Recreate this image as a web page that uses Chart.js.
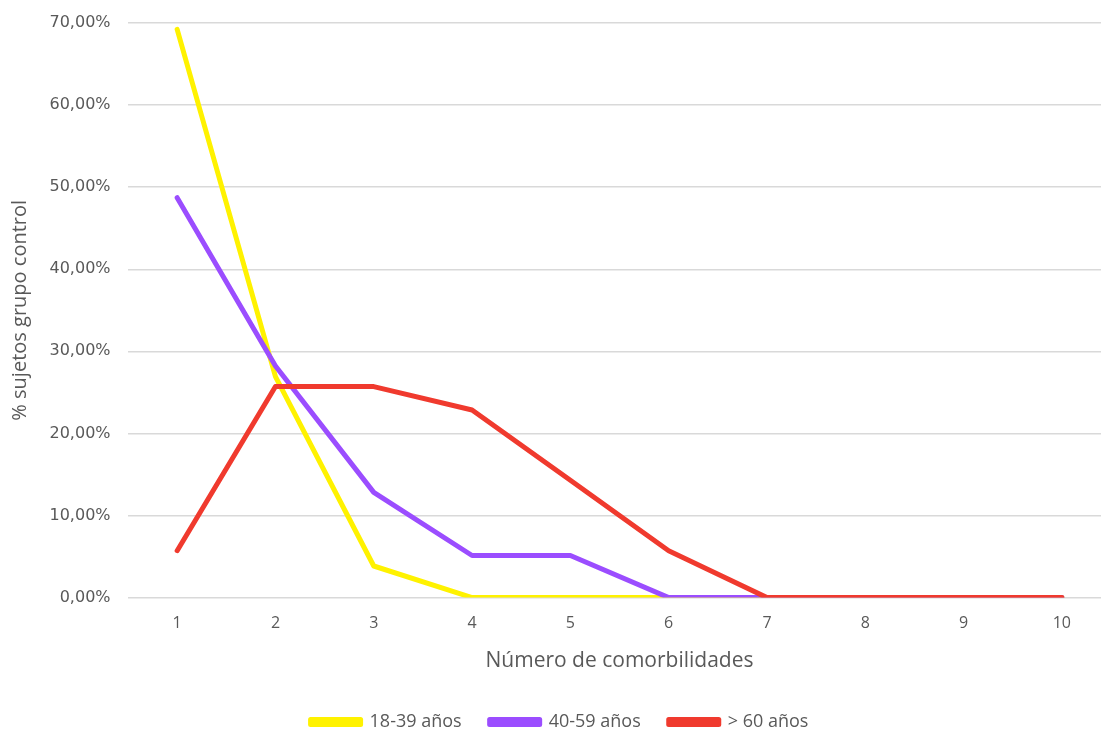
<!DOCTYPE html>
<html>
<head>
<meta charset="utf-8">
<script src="https://cdn.jsdelivr.net/npm/chart.js@4/dist/chart.umd.min.js"></script>
<style>
  html, body { margin:0; padding:0; background:#fff; overflow:hidden; }
  #wrap { position:relative; width:1112px; height:730px; }
</style>
</head>
<body>
<div id="wrap"><canvas id="chart"></canvas></div>
<script>
// % of control-group subjects by number of comorbidities, per age band
const comorbidities = ['1','2','3','4','5','6','7','8','9','10'];
const young  = [69.23, 26.92, 3.85, 0, 0, 0, 0, 0, 0, 0];       // 18-39
const middle = [48.72, 28.21, 12.82, 5.13, 5.13, 0, 0, 0, 0, 0];  // 40-59
const senior = [5.71, 25.71, 25.71, 22.86, 14.29, 5.71, 0, 0, 0, 0]; // > 60
const seriesNames = ['18-39 años', '40-59 años', '> 60 años'];
const lineColors = ['#FFF200', '#9B4DFF', '#F03A2E'];

const grey = '#595959';

function line(label, data, color, order){
  return {
    label, data, order,
    borderColor: color, backgroundColor: color,
    borderWidth: 5, pointRadius: 0, tension: 0,
    borderJoinStyle: 'round', borderCapStyle: 'round', fill: false
  };
}

// trim the legend box so its row sits closer to the bottom edge
const legendTrim = {
  id: 'legendTrim',
  afterInit(chart){
    const lg = chart.legend;
    const fit = lg.fit;
    lg.fit = function(){ fit.call(this); this.height -= 11; };
  }
};

new Chart(document.getElementById('chart'), {
  type: 'line',
  data: {
    labels: comorbidities,
    datasets: [
      line(seriesNames[0], young, lineColors[0], 3),
      line(seriesNames[1], middle, lineColors[1], 2),
      line(seriesNames[2], senior, lineColors[2], 1)
    ]
  },
  plugins: [legendTrim],
  options: {
    responsive: true,
    maintainAspectRatio: false,
    animation: false,
    layout: { padding: { top: 0, left: 8, right: 1, bottom: 0 } },
    plugins: {
      tooltip: { enabled: false },
      legend: {
        position: 'bottom',
        labels: {
          sort: (a, b) => a.datasetIndex - b.datasetIndex,
          boxWidth: 50, boxHeight: 5, padding: 28,
          color: grey,
          font: { family: 'Open Sans', size: 18 }
        }
      }
    },
    scales: {
      x: {
        offset: true,
        grid: { display: false },
        border: { display: false },
        ticks: { color: grey, padding: 8, font: { family: 'Open Sans', size: 16 } },
        title: {
          display: true, text: 'Número de comorbilidades', color: grey,
          font: { family: 'Open Sans', size: 21 }, padding: { top: 8, bottom: 11 }
        }
      },
      y: {
        min: 0, max: 70,
        // keep the top gridline close to the canvas edge
        afterFit: scale => { scale.paddingTop = 23; },
        grid: { color: '#d9d9d9', lineWidth: 1.5, drawTicks: false },
        border: { display: false },
        ticks: {
          stepSize: 10, color: grey, padding: 17.5,
          font: { family: 'DejaVu Sans', size: 16 },
          callback: v => v.toFixed(2).replace('.', ',') + '%'
        },
        title: {
          display: true, text: '% sujetos grupo control', color: grey,
          font: { family: 'Open Sans', size: 20 }, padding: { top: 0, bottom: 0 }
        }
      }
    }
  }
});
</script>
</body>
</html>
